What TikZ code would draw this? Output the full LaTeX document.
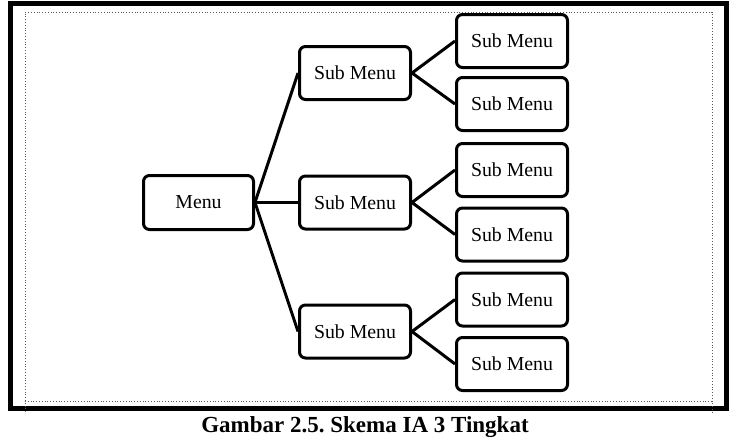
\documentclass[tikz,border=0pt]{standalone}
\usepackage{fontspec}
\setmainfont{Liberation Serif}
\usetikzlibrary{positioning}
\frenchspacing

\tikzset{
  menubox/.style={draw, line width=3pt, rounded corners=6pt, inner sep=0pt,
    minimum width=111pt, minimum height=53pt, font=\fontsize{19.8pt}{22pt}\selectfont},
  link/.style={line width=3pt},
}

\begin{document}
\begin{tikzpicture}[x=1pt, y=-1pt]
  \useasboundingbox (0,0) rectangle (737,437);

  % Frame: thick outer border and dotted inner border
  \draw[line width=5pt] (10.5,3) rectangle (726.5,408.5);
  \draw[dotted, line width=0.8pt, gray!70!black] (25,412) -- (25,12) -- (712,12) -- (712,412);
  \draw[dotted, line width=0.8pt, gray!70!black] (25,401) -- (712,401);

  % Level 1
  \node (menu) [menubox, minimum width=110pt, minimum height=54pt] at (198.5,202.5) {Menu};

  % Level 2
  \node (sub1) [menubox] at (355,73)    {Sub Menu};
  \node (sub2) [menubox] at (355,202.5) {Sub Menu};
  \node (sub3) [menubox] at (355,331.5) {Sub Menu};

  % Level 3
  \node (sub1a) [menubox] at (512,41)    {Sub Menu};
  \node (sub1b) [menubox] at (512,104)   {Sub Menu};
  \node (sub2a) [menubox] at (512,170)   {Sub Menu};
  \node (sub2b) [menubox] at (512,234.5) {Sub Menu};
  \node (sub3a) [menubox] at (512,299.5) {Sub Menu};
  \node (sub3b) [menubox] at (512,364)   {Sub Menu};

  % Connectors
  \draw[link] (menu.east) -- (sub1.west);
  \draw[link] (menu.east) -- (sub2.west);
  \draw[link] (menu.east) -- (sub3.west);
  \draw[link] (sub1.east) -- (sub1a.west);
  \draw[link] (sub1.east) -- (sub1b.west);
  \draw[link] (sub2.east) -- (sub2a.west);
  \draw[link] (sub2.east) -- (sub2b.west);
  \draw[link] (sub3.east) -- (sub3a.west);
  \draw[link] (sub3.east) -- (sub3b.west);

  % Caption
  \node (caption) [font=\bfseries\fontsize{23pt}{26pt}\selectfont, anchor=base] at (365,432) {Gambar 2.5. Skema IA 3 Tingkat};
\end{tikzpicture}
\end{document}
